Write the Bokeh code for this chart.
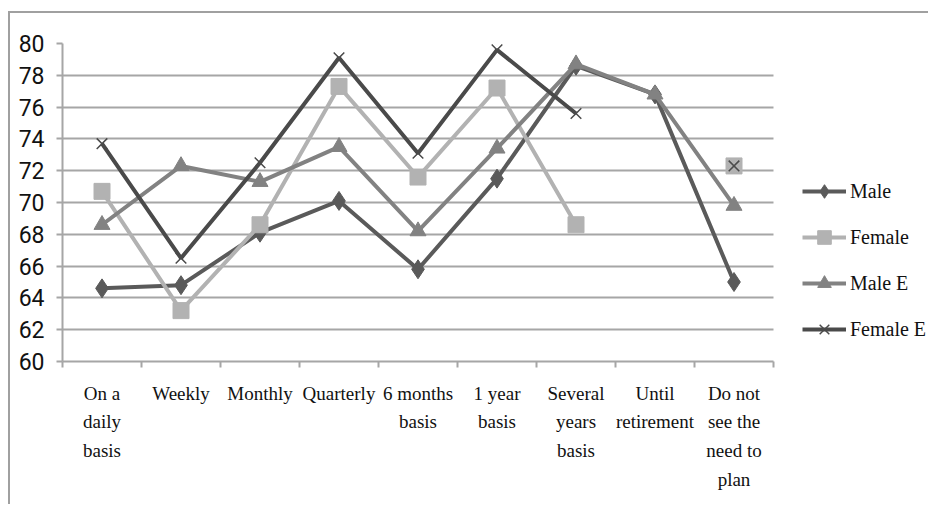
from bokeh.plotting import figure
from bokeh.models import FixedTicker, Legend, LegendItem, Range1d
from bokeh.embed import file_html
from bokeh.resources import INLINE
import numpy as np

# Planning horizon categories and their axis labels
categories = ["On a daily basis", "Weekly", "Monthly", "Quarterly", "6 months basis",
              "1 year basis", "Several years basis", "Until retirement",
              "Do not see the need to plan"]
tick_labels = ["On a\ndaily\nbasis", "Weekly", "Monthly", "Quarterly", "6 months\nbasis",
               "1 year\nbasis", "Several\nyears\nbasis", "Until\nretirement",
               "Do not\nsee the\nneed to\nplan"]

# Series values (None = no response in that category)
male = [64.6, 64.8, 68.1, 70.1, 65.8, 71.5, 78.6, 76.8, 65.0]
female = [70.7, 63.2, 68.6, 77.3, 71.6, 77.2, 68.6, None, 72.3]
male_e = [68.6, 72.3, 71.3, 73.5, 68.2, 73.4, 78.7, 76.8, 69.8]
female_e = [73.7, 66.5, 72.5, 79.1, 73.1, 79.6, 75.6, None, 72.3]

y_ticks = list(range(60, 81, 2))

n = len(categories)
xs = [i + 0.5 for i in range(n)]

GRID = "#a6a6a6"
SERIF = "Liberation Serif"

# The frame runs to the right edge so the legend can sit beside the categories;
# each category is 79 px wide, the remaining space holds the legend.
FRAME_W = 868
CAT_W = 79.0

p = figure(width=920, height=493, output_backend="svg", toolbar_location=None,
           x_range=Range1d(0, FRAME_W / CAT_W), y_range=Range1d(60, 80),
           min_border_left=52, min_border_right=0, min_border_top=30,
           min_border_bottom=145)
# Chart frame: grey rule along the left and top edges
p.styles = {"margin-left": "8px", "margin-top": "11px",
            "border-left": "2px solid #a0a0a0", "border-top": "2px solid #a0a0a0"}
p.outline_line_color = None
p.background_fill_color = "white"
p.border_fill_color = "white"

# Horizontal gridlines, limited to the category area
p.xgrid.grid_line_color = None
p.ygrid.ticker = FixedTicker(ticks=y_ticks)
p.ygrid.grid_line_color = GRID
p.ygrid.grid_line_width = 2
p.ygrid.cross_bounds = (0, n)

# Y axis
p.yaxis.ticker = FixedTicker(ticks=y_ticks)
p.yaxis.axis_line_color = GRID
p.yaxis.axis_line_width = 2
p.yaxis.major_tick_line_color = GRID
p.yaxis.major_tick_line_width = 2
p.yaxis.major_tick_out = 6
p.yaxis.major_tick_in = 0
p.yaxis.minor_tick_line_color = None
p.yaxis.major_label_standoff = 12
p.yaxis.major_label_text_font = "Roboto"
p.yaxis.major_label_text_font_size = "23px"
p.yaxis.major_label_text_color = "#111111"

# X axis: labels at category centres, tick marks at category boundaries
p.xaxis.bounds = (0, n)
p.xaxis.ticker = FixedTicker(ticks=xs, minor_ticks=list(range(n + 1)))
p.xaxis.major_label_overrides = {x: lab for x, lab in zip(xs, tick_labels)}
p.xaxis.axis_line_color = GRID
p.xaxis.axis_line_width = 2
p.xaxis.major_tick_line_color = None
p.xaxis.minor_tick_line_color = GRID
p.xaxis.minor_tick_line_width = 2
p.xaxis.minor_tick_out = 6
p.xaxis.minor_tick_in = 0
p.xaxis.major_label_standoff = 15
p.xaxis.major_label_text_font = SERIF
p.xaxis.major_label_text_font_size = "19px"
p.xaxis.major_label_text_line_height = 1.38
p.xaxis.major_label_text_color = "#111111"


def nan(vals):
    return [np.nan if v is None else v for v in vals]


series = [
    ("Male", male, "#5a5a5a", "diamond", 19),
    ("Female", female, "#b2b2b2", "square", 16),
    ("Male E", male_e, "#828282", "triangle", 16),
    ("Female E", female_e, "#4a4a4a", "x", 15),
]

items = []
for name, vals, color, marker, size in series:
    ys = nan(vals)
    ln = p.line(xs, ys, line_color=color, line_width=4)
    if marker == "x":
        sc = p.scatter(xs, ys, marker=marker, size=size, line_color=color, line_width=1.5)
    else:
        sc = p.scatter(xs, ys, marker=marker, size=size, fill_color=color, line_color=color)
    items.append(LegendItem(label=name, renderers=[ln, sc]))

legend = Legend(items=items, location=(740, 15), orientation="vertical",
                glyph_width=44, glyph_height=34, label_height=34, spacing=12,
                padding=0, margin=0, label_standoff=4,
                label_text_font=SERIF, label_text_font_size="20px",
                label_text_color="#111111",
                border_line_color=None, background_fill_alpha=0)
p.add_layout(legend)

open("out.html", "w").write(file_html(p, INLINE))
